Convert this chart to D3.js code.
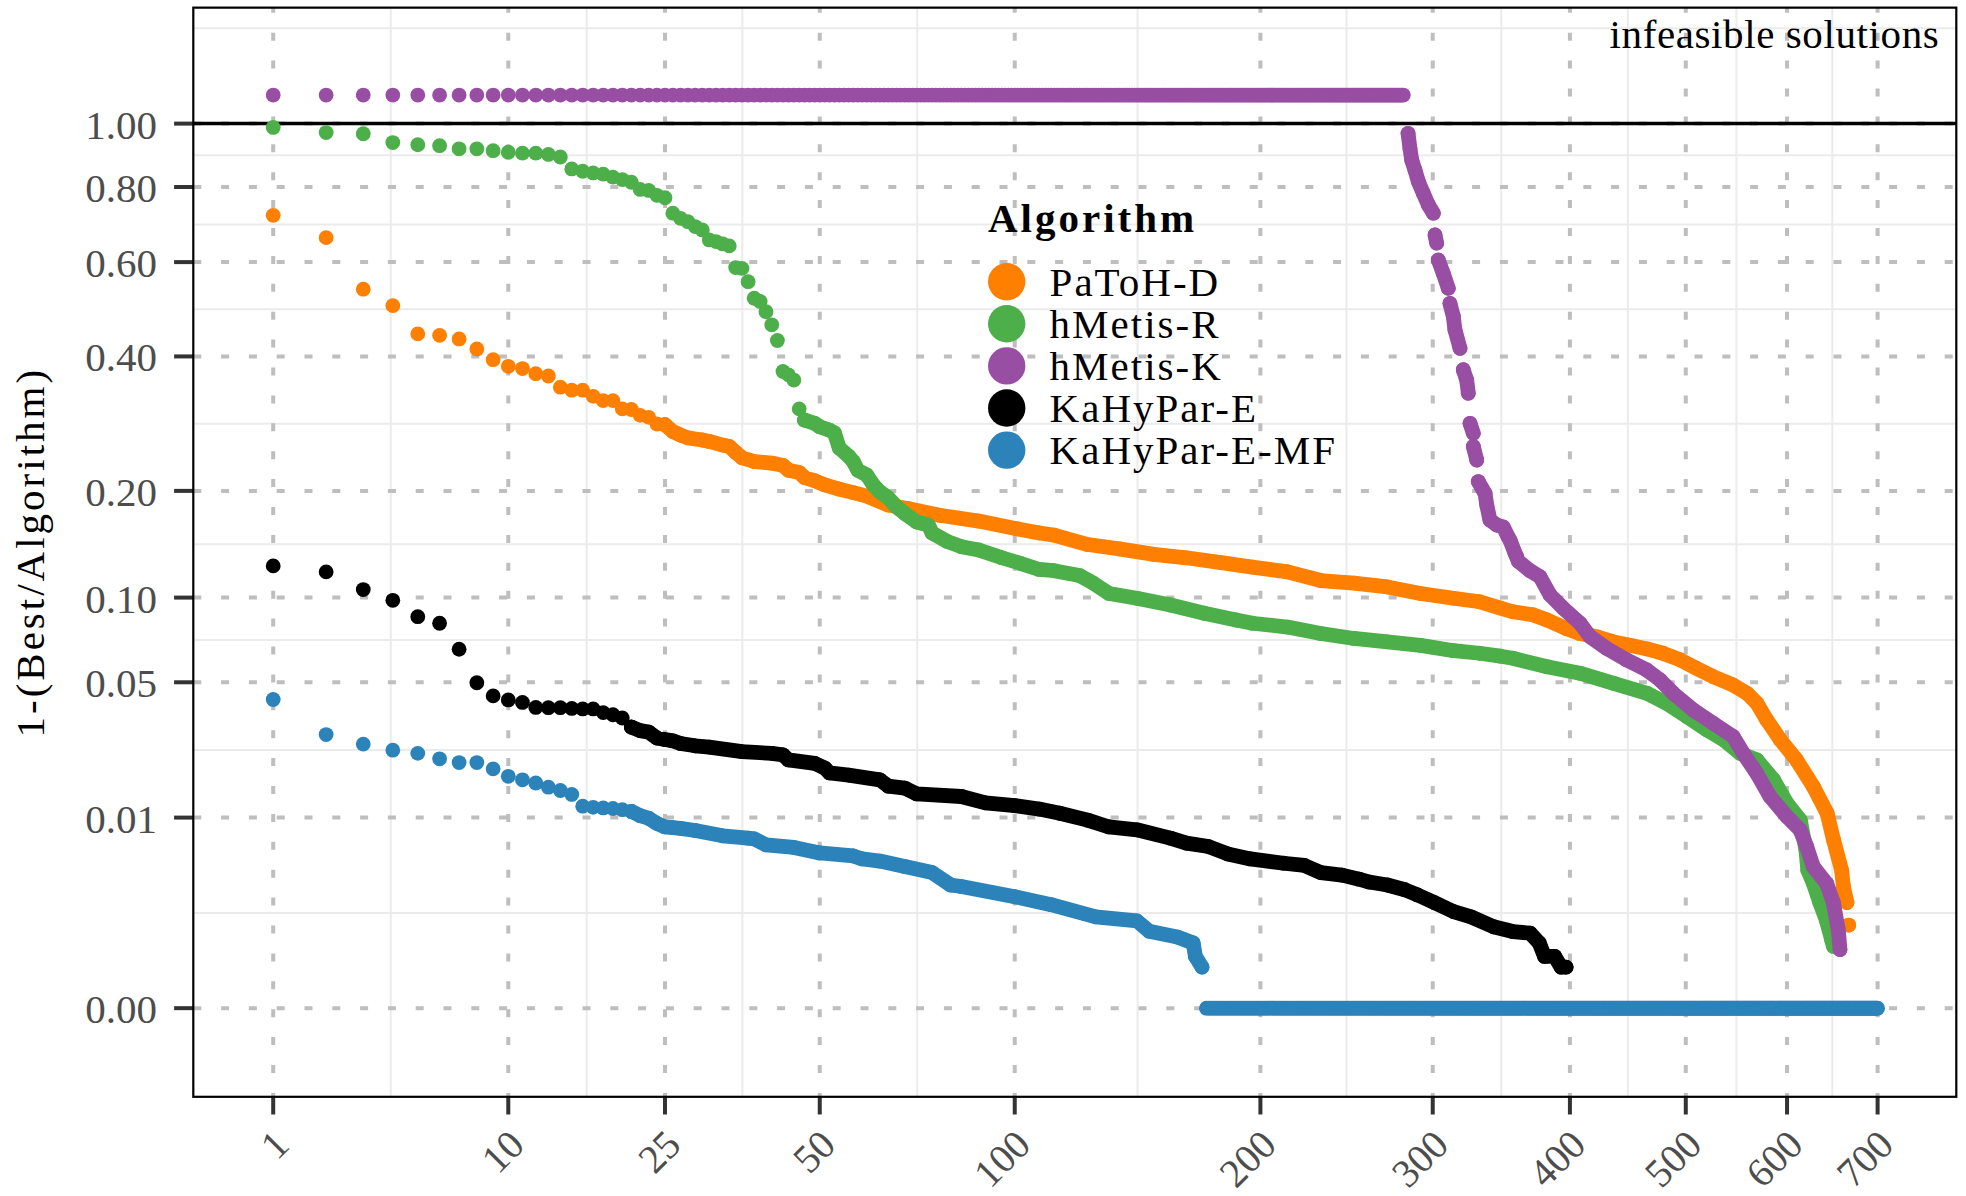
<!DOCTYPE html>
<html>
<head>
<meta charset="utf-8">
<script src="https://cdn.jsdelivr.net/npm/d3@7"></script>
<style>
  body { margin: 0; background: #fff; }
  text { font-family: "Liberation Serif", "Times New Roman", serif; }
</style>
</head>
<body>
<script>
'use strict';

// ---- data (rank of instance, 1-(Best/Algorithm)) ----
const algorithms = ["PaToH-D", "hMetis-R", "hMetis-K", "KaHyPar-E", "KaHyPar-E-MF"];
const colors = ["#ff7f00", "#4daf4a", "#984ea3", "#000000", "#2b83ba"];
const xTicks = [1, 10, 25, 50, 100, 200, 300, 400, 500, 600, 700];
const yTicks = [0, 0.01, 0.05, 0.1, 0.2, 0.4, 0.6, 0.8, 1.0];
const infeasibleValue = 1.1;

// PaToH-D
const patohDots = [[1,0.720],[2,0.661],[3,0.537],[4,0.501],[5,0.443],[6,0.440],[7,0.433],[8,0.414],
  [9,0.394],[10,0.382],[11,0.378],[12,0.369],[13,0.365],[14,0.346],[15,0.341],[16,0.341],[17,0.331],
  [18,0.324],[19,0.324],[20,0.311],[21,0.310],[22,0.301],[23,0.298],[24,0.288],[25,0.287]];
const patohRuns = [
  [[25,0.287],[26,0.277],[27,0.272],[28,0.268],[30,0.265],[31,0.263],[33,0.258],[34,0.256],[35,0.248],
   [36,0.241],[38,0.236],[41,0.234],[43,0.231],[44,0.225],[46,0.222],[47,0.216],[49,0.212],[51,0.207],
   [54,0.202],[57,0.198],[60,0.194],[65,0.184],[70,0.180],[78,0.173],[89,0.167],[101,0.159],[108,0.155],
   [113,0.153],[125,0.144],[137,0.140],[151,0.135],[165,0.132],[180,0.128],[196,0.124],[214,0.120],
   [232,0.113],[251,0.111],[271,0.108],[292,0.103],[314,0.0995],[332,0.097],[347,0.0925],[356,0.090],
   [371,0.088],[382,0.0845],[397,0.079],[408,0.076],[422,0.074],[436,0.071],[450,0.069],[465,0.067],
   [479,0.0646],[495,0.061],[510,0.0567],[526,0.0526],[545,0.0488],[559,0.0451],[569,0.041],[579,0.0346],
   [593,0.0279],[610,0.0221],[628,0.0157],[643,0.0107],[650,0.0069],[659,0.0038],[661,0.0026],[665,0.0017]],
  [[667,0.00083]]
];

// hMetis-R
const hmetisRDots = [[1,0.987],[2,0.970],[3,0.966],[4,0.937],[5,0.930],[6,0.927],[7,0.917],[8,0.917],
  [9,0.911],[10,0.906],[11,0.903],[12,0.903],[13,0.899],[14,0.891],[15,0.854],[16,0.847],[17,0.842],
  [18,0.838],[19,0.829],[20,0.822],[21,0.814],[22,0.793],[23,0.790],[24,0.776],[25,0.769],[26,0.726],
  [27,0.712],[28,0.703],[29,0.690],[30,0.681],[31,0.655],[32,0.651],[33,0.645],[34,0.640],[35,0.587],
  [36,0.585],[37,0.554],[38,0.517],[39,0.510],[40,0.488],[41,0.461],[42,0.430],[43,0.373],[44,0.367],
  [45,0.358],[46,0.311],[47,0.294]];
const hmetisRRuns = [
  [[47,0.294],[49,0.289],[50,0.284],[52,0.279],[53,0.275],[54,0.254],[56,0.243],[57,0.236],[58,0.225],
   [60,0.219],[61.5,0.207],[63,0.199],[65,0.192],[67,0.182],[69,0.175],[72,0.166],[75,0.163],[76,0.155],
   [80,0.147],[84,0.142],[89,0.139],[96,0.132],[102,0.127],[108,0.122],[113,0.121],[122,0.117],[127,0.111],
   [133,0.103],[144,0.0995],[158,0.0947],[173,0.089],[188,0.0845],[196,0.0824],[214,0.080],[232,0.076],
   [251,0.073],[271,0.071],[292,0.069],[314,0.066],[332,0.0646],[347,0.063],[356,0.0619],[382,0.0575],
   [408,0.0543],[436,0.0495],[465,0.0451],[482,0.041],[501,0.0358],[520,0.0311],[536,0.0279],[552,0.0239],
   [569,0.0221],[586,0.0172],[600,0.0124],[614,0.0096],[620,0.0057],[622,0.0038],[628,0.0028],[635,0.0017],
   [642,0.0010],[648,0.00046],[650,0.00034]]
];

// hMetis-K: ranks 1..281 infeasible, then feasible runs
const hmetisKInfeasibleLast = 281;
const hmetisKRuns = [
  [[284,0.967],[285.2,0.919],[286.3,0.882],[288.4,0.851],[290.6,0.816],[293.8,0.782],[297.1,0.749],[300.4,0.726]],
  [[301.5,0.668],[302.6,0.647]],
  [[303.7,0.605],[307,0.573],[310.4,0.539]],
  [[311.5,0.506],[313.8,0.478],[314.9,0.451],[318.4,0.415]],
  [[320.6,0.376],[323,0.358],[324.1,0.336]],
  [[325.3,0.289],[327.6,0.2745]],
  [[327.6,0.256],[330,0.238]],
  [[331.1,0.211],[335.9,0.197],[337.1,0.184],[339.4,0.168],[344.3,0.163],[349,0.161],[352.7,0.151],
   [354,0.148],[357.7,0.136],[358.9,0.133],[360.1,0.129],[368.9,0.121],[376.5,0.116],[384.3,0.102],
   [394.7,0.0924],[408.1,0.0824],[416.3,0.0741],[430.1,0.0673],[447.1,0.061],[464.6,0.0559],[476.5,0.0511],
   [488.5,0.0451],[507,0.0383],[526,0.0334],[545.4,0.0289],[555.3,0.0239],[568.8,0.0187],[582.3,0.0137],
   [599.6,0.0102],[613.7,0.0082],[620.8,0.0061],[627.9,0.0041],[642.5,0.0028],[649.8,0.0017],[655.3,0.0007],
   [657.2,0.00029]]
];

// KaHyPar-E
const kahyparEDots = [[1,0.125],[2,0.120],[3,0.106],[4,0.098],[5,0.0867],[6,0.0824],[7,0.0668],[8,0.0498],
  [9,0.0440],[10,0.0423],[11,0.0413],[12,0.0393],[13,0.0392],[14,0.0392],[15,0.0389],[16,0.0387],
  [17,0.0387],[18,0.0373],[19,0.0365],[20,0.0353],[21,0.0321]];
const kahyparERuns = [
  [[21,0.0321],[22,0.0309],[23,0.0304],[24,0.0285],[25,0.0280],[26,0.0276],[27,0.0268],[29,0.0261],
   [31,0.0257],[36,0.0244],[41,0.0239],[43,0.0235],[44,0.0221],[49,0.0212],[51,0.0200],[52,0.0188],
   [56,0.0183],[63,0.0172],[65,0.0158],[69,0.0154],[72,0.0142],[84,0.0137],[91,0.0125],[100,0.0120],
   [108,0.0114],[115,0.0107],[125,0.0096],[133,0.0086],[144,0.0082],[158,0.0071],[165,0.0065],[175,0.0061],
   [184,0.0053],[195,0.0048],[212,0.0044],[223,0.0042],[232,0.0036],[244,0.0034],[254,0.0031],[260,0.0029],
   [271,0.0027],[282,0.0024],[290,0.0021],[301,0.0017],[314,0.0013],[326,0.0011],[342,0.00078],
   [356,0.00065],[369,0.00061],[376,0.00040],[380,0.00020],[388,0.0002],[393,0.0001],[397,0.0001]]
];

// KaHyPar-E-MF: ranks 174..700 equal the best solution (0)
const kahyparMFDots = [[1,0.0425],[2,0.0296],[3,0.0266],[4,0.0248],[5,0.0239],[6,0.0224],[7,0.0214],
  [8,0.0214],[9,0.0198],[10,0.0180],[11,0.0172],[12,0.0165],[13,0.0156],[14,0.0149],[15,0.0141],
  [16,0.0119],[17,0.0117],[18,0.0116],[19,0.0115],[20,0.0113],[21,0.0110]];
const kahyparMFRuns = [
  [[21,0.0110],[22,0.0103],[23,0.0099],[24,0.0091],[25,0.0086],[26,0.0085],[27,0.0084],[29,0.0081],
   [33,0.0074],[37,0.0071],[38,0.0070],[40,0.0063],[45,0.0060],[50,0.0054],[57,0.0051],[59,0.0048],
   [63,0.0046],[69,0.0041],[76,0.0036],[81,0.0027],[84,0.0026],[100,0.0020],[112,0.0016],[128,0.0011],
   [144,0.00096],[149,0.00066],[161,0.00052],[168,0.00040],[169,0.0002],[172,0.0001]]
];
const kahyparMFZeroFirst = 174;
const kahyparMFZeroLast = 700;

// ---- layout ----
const W = 1966, H = 1196;
const panel = {left: 193.3, right: 1956.3, top: 7.65, bottom: 1096.8};
const R = 7.4;

const svg = d3.select('body').append('svg')
  .attr('width', W)
  .attr('height', H);

// cube-root scales on both axes
const x = d3.scalePow().exponent(1 / 3)
  .domain([Math.pow(0.6076, 3), Math.pow(9.2655, 3)])
  .range([panel.left, panel.right]);
const y = d3.scalePow().exponent(1 / 3)
  .domain([-Math.pow(0.1002, 3), Math.pow(1.1311, 3)])
  .range([panel.bottom, panel.top]);

// minor breaks halfway between majors in transformed space
function minorBreaks(majors, scale) {
  const t = majors.map(Math.cbrt);
  const d = t[1] - t[0];
  const ext = [t[0] - d].concat(t, [t[t.length - 1] + d]);
  const dom = scale.domain().map(Math.cbrt);
  const out = [];
  for (let i = 0; i < ext.length - 1; i++) {
    const m = (ext[i] + ext[i + 1]) / 2;
    if (m > dom[0] && m < dom[1]) out.push(Math.pow(m, 3));
  }
  return out;
}

/****** grid ******/
const grid = svg.append('g');
grid.selectAll('.minor-x')
  .data(minorBreaks(xTicks, x))
  .enter().append('line')
    .attr('x1', d => x(d)).attr('x2', d => x(d))
    .attr('y1', panel.top).attr('y2', panel.bottom)
    .attr('stroke', '#ebebeb').attr('stroke-width', 2);
grid.selectAll('.minor-y')
  .data(minorBreaks(yTicks, y))
  .enter().append('line')
    .attr('x1', panel.left).attr('x2', panel.right)
    .attr('y1', d => y(d)).attr('y2', d => y(d))
    .attr('stroke', '#ebebeb').attr('stroke-width', 2);
grid.selectAll('.major-x')
  .data(xTicks)
  .enter().append('line')
    .attr('x1', d => x(d)).attr('x2', d => x(d))
    .attr('y1', panel.bottom).attr('y2', panel.top)
    .attr('stroke', '#bebebe').attr('stroke-width', 4)
    .style('stroke-dasharray', '8 19.9')
    .style('stroke-dashoffset', 4.1);
grid.selectAll('.major-y')
  .data(yTicks)
  .enter().append('line')
    .attr('x1', panel.left).attr('x2', panel.right)
    .attr('y1', d => y(d)).attr('y2', d => y(d))
    .attr('stroke', '#bebebe').attr('stroke-width', 4)
    .style('stroke-dasharray', '8 19.8');

// feasibility limit
svg.append('line')
  .attr('x1', panel.left).attr('x2', panel.right)
  .attr('y1', y(1)).attr('y2', y(1))
  .attr('stroke', '#000').attr('stroke-width', 3.5);

/****** points ******/
const line = d3.line().x(d => x(d[0])).y(d => y(d[1]));

function drawSeries(color, dots, runs) {
  const g = svg.append('g');
  runs.forEach(run => {
    g.append('path')
      .datum(run)
      .attr('d', line)
      .attr('fill', 'none')
      .attr('stroke', color)
      .attr('stroke-width', 2 * R)
      .attr('stroke-linecap', 'round')
      .attr('stroke-linejoin', 'round');
    g.selectAll(null).data(run).enter().append('circle')
      .attr('cx', d => x(d[0])).attr('cy', d => y(d[1])).attr('r', R)
      .attr('fill', color);
  });
  g.selectAll(null).data(dots).enter().append('circle')
    .attr('cx', d => x(d[0])).attr('cy', d => y(d[1])).attr('r', R)
    .attr('fill', color);
}

const hmetisKInfeasible = d3.range(1, hmetisKInfeasibleLast + 1).map(r => [r, infeasibleValue]);
const kahyparMFZeros = d3.range(kahyparMFZeroFirst, kahyparMFZeroLast + 1).map(r => [r, 0]);

drawSeries(colors[0], patohDots, patohRuns);
drawSeries(colors[1], hmetisRDots, hmetisRRuns);
drawSeries(colors[2], hmetisKInfeasible, hmetisKRuns);
drawSeries(colors[3], kahyparEDots, kahyparERuns);
drawSeries(colors[4], kahyparMFDots.concat(kahyparMFZeros), kahyparMFRuns);

/****** axes ******/
const fmt = d3.format('.2f');
const axes = svg.append('g');
axes.selectAll('.ytick').data(yTicks).enter().append('line')
  .attr('x1', 174.1).attr('x2', panel.left)
  .attr('y1', d => y(d)).attr('y2', d => y(d))
  .attr('stroke', '#333333').attr('stroke-width', 4);
axes.selectAll('.ylab').data(yTicks).enter().append('text')
  .attr('x', 157)
  .attr('y', d => y(d) + 15)
  .attr('text-anchor', 'end')
  .attr('font-size', '41px')
  .attr('fill', '#4d4d4d')
  .text(d => fmt(d));

axes.selectAll('.xtick').data(xTicks).enter().append('line')
  .attr('x1', d => x(d)).attr('x2', d => x(d))
  .attr('y1', panel.bottom).attr('y2', 1114.5)
  .attr('stroke', '#333333').attr('stroke-width', 4);
axes.selectAll('.xlab').data(xTicks).enter().append('text')
  .attr('transform', d => 'translate(' + (x(d) + 18) + ',1147) rotate(-45)')
  .attr('text-anchor', 'end')
  .attr('font-size', '40px')
  .attr('fill', '#4d4d4d')
  .text(d => d);

// Y-axis title
svg.append('text')
  .attr('transform', 'translate(44,' + ((panel.top + panel.bottom) / 2) + ') rotate(-90)')
  .attr('text-anchor', 'middle')
  .attr('font-size', '41px')
  .attr('letter-spacing', '3px')
  .attr('fill', '#000')
  .text('1-(Best/Algorithm)');

// annotation
svg.append('text')
  .attr('x', 1939.3)
  .attr('y', 47.8)
  .attr('text-anchor', 'end')
  .attr('font-size', '41px')
  .attr('letter-spacing', '0.6px')
  .attr('fill', '#000')
  .text('infeasible solutions');

/****** legend ******/
const legend = svg.append('g');
legend.append('text')
  .attr('x', 988)
  .attr('y', 232)
  .attr('font-size', '41px')
  .attr('font-weight', 'bold')
  .attr('letter-spacing', '3px')
  .text('Algorithm');
legend.selectAll('circle').data(algorithms).enter().append('circle')
  .attr('cx', 1006.7)
  .attr('cy', (d, i) => 281.7 + i * 42.1)
  .attr('r', 18.7)
  .attr('fill', (d, i) => colors[i]);
legend.selectAll('.lab').data(algorithms).enter().append('text')
  .attr('x', 1049.6)
  .attr('y', (d, i) => 281.7 + i * 42.1 + 14)
  .attr('font-size', '41px')
  .attr('letter-spacing', '2px')
  .text(d => d);

// panel border
svg.append('rect')
  .attr('x', panel.left).attr('y', panel.top)
  .attr('width', panel.right - panel.left)
  .attr('height', panel.bottom - panel.top)
  .attr('fill', 'none')
  .attr('stroke', '#000')
  .attr('stroke-width', 2.2);
</script>
</body>
</html>
